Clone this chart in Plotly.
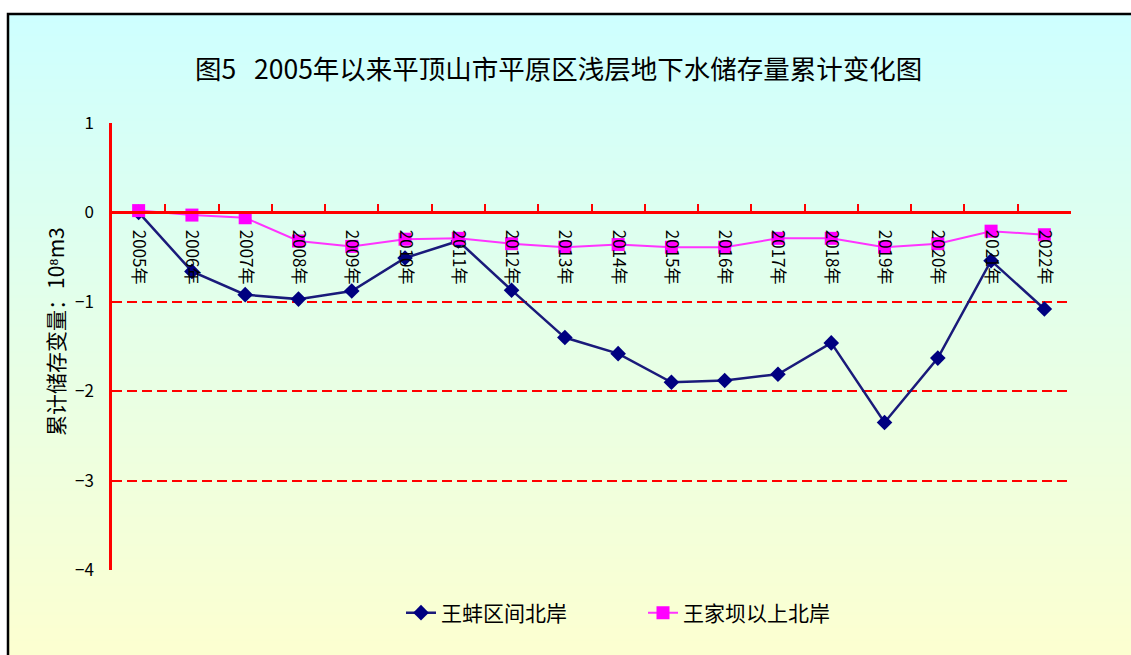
import base64
import struct
import zlib

import plotly.graph_objects as go

# ---------------- data ----------------
years = [f"{y}年" for y in range(2005, 2023)]
wangbeng_north = [0.0, -0.66, -0.92, -0.97, -0.88, -0.51, -0.32, -0.87, -1.40,
                  -1.58, -1.90, -1.88, -1.81, -1.46, -2.35, -1.63, -0.54, -1.08]
wangjiaba_north = [0.02, -0.03, -0.06, -0.32, -0.38, -0.30, -0.29, -0.35, -0.39,
                   -0.36, -0.39, -0.39, -0.29, -0.29, -0.39, -0.35, -0.21, -0.25]
series_names = ["王蚌区间北岸", "王家坝以上北岸"]
y_ticks = [1, 0, -1, -2, -3, -4]

title_text = "图5   2005年以来平顶山市平原区浅层地下水储存量累计变化图"
y_title = "累计储存变量：10⁸m3"

FONT = "Noto Sans CJK SC"

# ---------------- gradient background image ----------------
def gradient_png(top, bottom, h=256):
    raw = b""
    for i in range(h):
        t = i / (h - 1)
        r, g, b = [round(a + (c - a) * t) for a, c in zip(top, bottom)]
        raw += b"\x00" + bytes([r, g, b])

    def chunk(tag, data):
        return (struct.pack(">I", len(data)) + tag + data
                + struct.pack(">I", zlib.crc32(tag + data) & 0xFFFFFFFF))

    png = (b"\x89PNG\r\n\x1a\n"
           + chunk(b"IHDR", struct.pack(">IIBBBBB", 1, h, 8, 2, 0, 0, 0))
           + chunk(b"IDAT", zlib.compress(raw))
           + chunk(b"IEND", b""))
    return "data:image/png;base64," + base64.b64encode(png).decode()

bg_src = gradient_png((206, 255, 255), (255, 255, 206))

W, H = 1131, 655
L, R, T, B = 112, 60, 123, 85
pw, ph = W - L - R, H - T - B

def px_x(x):
    return (x - L) / pw

def px_y(y):
    return (H - B - y) / ph

# ---------------- figure ----------------
fig = go.Figure()

fig.add_trace(go.Scatter(
    x=years, y=wangbeng_north, name=series_names[0], mode="lines+markers",
    line=dict(color="#1a1a7a", width=2.5),
    marker=dict(symbol="diamond", size=12, color="#000080"),
))
fig.add_trace(go.Scatter(
    x=years, y=wangjiaba_north, name=series_names[1], mode="lines+markers",
    line=dict(color="#FF33FF", width=2),
    marker=dict(symbol="square", size=13, color="#FF00FF"),
))

fig.update_layout(
    width=W, height=H,
    margin=dict(l=L, r=R, t=T, b=B, pad=0),
    paper_bgcolor="white",
    plot_bgcolor="rgba(0,0,0,0)",
    font=dict(family=FONT, color="black", size=15),
    showlegend=True,
    legend=dict(
        orientation="h", x=px_x(401), xanchor="left",
        y=px_y(613), yanchor="middle", entrywidth=197,
        bgcolor="rgba(0,0,0,0)", font=dict(size=21, family=FONT),
    ),
    images=[dict(
        source=bg_src, xref="paper", yref="paper",
        x=px_x(8), y=px_y(14),
        sizex=px_x(1160) - px_x(8), sizey=px_y(14) - px_y(690),
        sizing="stretch", layer="below", xanchor="left", yanchor="top",
    )],
    shapes=[dict(
        type="rect", xref="paper", yref="paper",
        x0=px_x(8), x1=px_x(1160), y0=px_y(690), y1=px_y(14),
        line=dict(color="black", width=2.5), fillcolor="rgba(0,0,0,0)",
        layer="above",
    )],
    annotations=[
        dict(text=title_text, xref="paper", yref="paper",
             x=px_x(558), y=px_y(67), xanchor="center", yanchor="middle",
             showarrow=False, font=dict(size=26.5, family=FONT, color="black")),
        dict(text=y_title, xref="paper", yref="paper",
             x=px_x(55), y=px_y(332), xanchor="center", yanchor="middle",
             textangle=-90, showarrow=False,
             font=dict(size=21, family=FONT, color="black")),
    ],
)

fig.update_xaxes(
    type="category", range=[-0.5, len(years) - 0.5],
    anchor="free", position=0.8,
    showline=True, linecolor="red", linewidth=3,
    ticks="inside", tickson="boundaries", ticklen=7, tickwidth=2, tickcolor="red",
    tickangle=90, tickfont=dict(size=17, family=FONT, color="black"),
    ticklabelstandoff=12,
    showgrid=False, zeroline=False,
)
fig.update_yaxes(
    range=[-4, 1], tickvals=y_ticks,
    showgrid=True, gridcolor="red", gridwidth=2, griddash="10px,5px",
    zeroline=True, zerolinecolor="red", zerolinewidth=3,
    showline=True, linecolor="red", linewidth=2.5,
    ticks="", ticklabelstandoff=12,
    tickfont=dict(size=17, family=FONT, color="black"),
)

fig.write_html(
    "out.html",
    config={"displayModeBar": False},
    post_script="document.body.style.margin='0';document.body.style.overflow='hidden';",
)
